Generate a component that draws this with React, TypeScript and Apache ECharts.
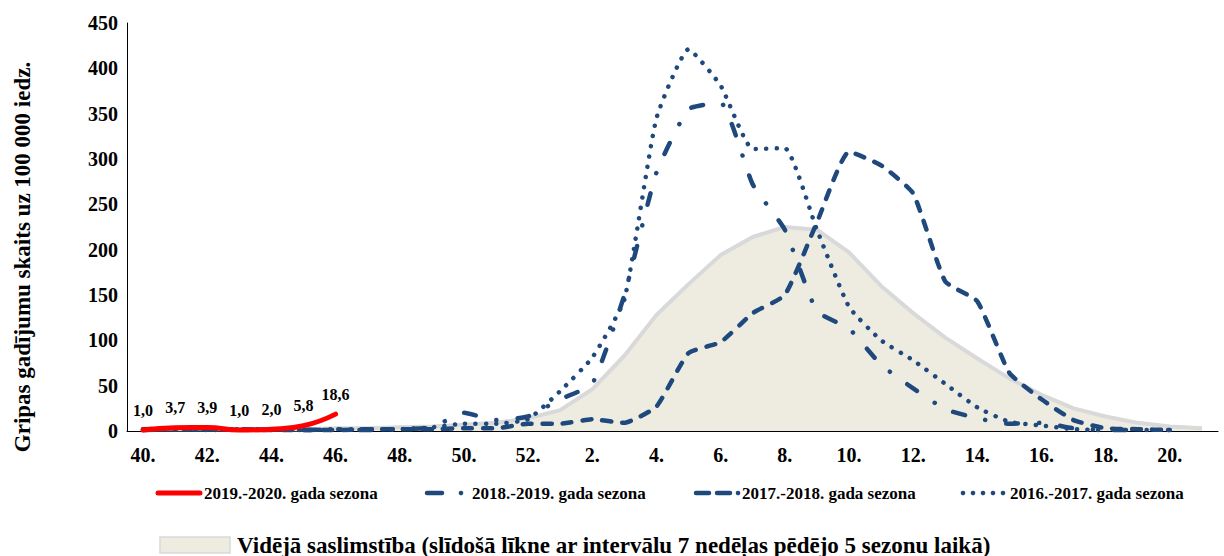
import React, { useEffect, useRef } from 'react';
import * as echarts from 'echarts';

const FONT = "'Liberation Serif', 'Times New Roman', serif";
const BLUE = '#1F497D';
const RED = '#FF0000';

const weeks = [
  '40.', '41.', '42.', '43.', '44.', '45.', '46.', '47.', '48.', '49.', '50.', '51.', '52.',
  '1.', '2.', '3.', '4.', '5.', '6.', '7.', '8.', '9.', '10.', '11.', '12.', '13.', '14.',
  '15.', '16.', '17.', '18.', '19.', '20.', '21.',
];

const season1920 = [1.0, 3.7, 3.9, 1.0, 2.0, 5.8, 18.6];

const season1819 = [
  1, 2, 3, 1, 2, 1, 2, 1, 2, 4, 20, 12, 16,
  35, 52, 150, 285, 355, 362, 272, 222, 132, 113, 73, 47, 24, 14,
  8, 9, 3, 1, 1, 1,
];

const season1718 = [
  2, 3, 2, 2, 1, 1, 1, 2, 2, 2, 3, 3, 8,
  8, 13, 9, 27, 86, 98, 130, 150, 230, 308, 293, 262, 165, 143,
  64, 35, 12, 3, 2, 1,
];

const season1617 = [
  2, 2, 1, 2, 2, 1, 2, 2, 2, 4, 8, 8, 13,
  44, 81, 145, 345, 421, 381, 311, 312, 222, 137, 100, 78, 52, 26,
  10, 6, 2, 1,
];

const average = [
  2, 2, 2, 2, 2, 2, 3, 3, 4, 5, 7, 9, 14,
  23, 46, 83, 128, 162, 194, 214, 225, 222, 197, 160, 130, 103, 80,
  58, 40, 25, 16, 9, 5, 3,
];

const seriesNames = [
  '2019.-2020. gada sezona',
  '2018.-2019. gada sezona',
  '2017.-2018. gada sezona',
  '2016.-2017. gada sezona',
];
const averageName =
  'Vidējā saslimstība (slīdošā līkne ar intervālu 7 nedēļas pēdējo 5 sezonu laikā)';
const yTitle = 'Gripas gadījumu skaits uz 100 000 iedz.';

const Y_MIN = 0;
const Y_MAX = 450;
const Y_STEP = 50;

function txt(text: string, x: number, y: number, size: number, extra: any = {}) {
  return {
    type: 'text',
    x,
    y,
    ...extra,
    style: {
      text,
      fill: '#000',
      font: `bold ${size}px ${FONT}`,
      textAlign: 'left',
      textVerticalAlign: 'middle',
      align: 'left',
      verticalAlign: 'middle',
      ...(extra.style || {}),
    },
  };
}

function seg(x1: number, x2: number, y: number, color: string, w: number) {
  return {
    type: 'line',
    shape: { x1, y1: y, x2, y2: y },
    style: { stroke: color, lineWidth: w, lineCap: 'round' },
  };
}

function dot(cx: number, cy: number) {
  return { type: 'circle', shape: { cx, cy, r: 2.3 }, style: { fill: BLUE } };
}

export default function App() {
  const ref = useRef<HTMLDivElement>(null);

  useEffect(() => {
    const chart = echarts.init(ref.current!, null, { renderer: 'svg' });
    const L1 = 493;
    const option: any = {
      animation: false,
      backgroundColor: '#ffffff',
      textStyle: { fontFamily: FONT },
      grid: { left: 127, right: 6, top: 23, bottom: 125, containLabel: false },
      xAxis: {
        type: 'category',
        data: weeks,
        boundaryGap: true,
        axisLine: { show: true, lineStyle: { color: '#000', width: 1 } },
        axisTick: { show: false },
        axisLabel: {
          interval: 1,
          margin: 14,
          color: '#000',
          fontSize: 20,
          fontWeight: 'bold',
          fontFamily: FONT,
        },
        splitLine: { show: false },
      },
      yAxis: {
        type: 'value',
        min: Y_MIN,
        max: Y_MAX,
        interval: Y_STEP,
        axisLine: { show: true, lineStyle: { color: '#000', width: 1 } },
        axisTick: { show: false },
        splitLine: { show: false },
        axisLabel: {
          margin: 9,
          color: '#000',
          fontSize: 20,
          fontWeight: 'bold',
          fontFamily: FONT,
        },
      },
      series: [
        {
          name: averageName,
          type: 'line',
          data: average,
          symbol: 'none',
          z: 1,
          lineStyle: { color: '#D9D9D9', width: 4, join: 'round' },
          areaStyle: { color: '#EEECE1', opacity: 1 },
        },
        {
          name: seriesNames[3],
          type: 'line',
          data: season1617,
          symbol: 'none',
          smooth: 0.15,
          z: 2,
          lineStyle: { color: BLUE, width: 4.5, type: [0.1, 10.3], cap: 'round', join: 'round' },
        },
        {
          name: seriesNames[2],
          type: 'line',
          data: season1718,
          symbol: 'none',
          smooth: 0.15,
          z: 3,
          lineStyle: { color: BLUE, width: 4.5, type: [9, 11], cap: 'round', join: 'round' },
        },
        {
          name: seriesNames[1],
          type: 'line',
          data: season1819,
          symbol: 'none',
          smooth: 0.15,
          z: 4,
          lineStyle: { color: BLUE, width: 4.5, type: [12, 21, 0.1, 21], cap: 'round', join: 'round' },
        },
        {
          name: seriesNames[0],
          type: 'line',
          data: season1920,
          symbol: 'circle',
          symbolSize: 2,
          showSymbol: true,
          itemStyle: { color: RED },
          smooth: 0.5,
          z: 5,
          lineStyle: { color: RED, width: 5, cap: 'round', join: 'round' },
          label: {
            show: true,
            position: 'top',
            distance: 11,
            color: '#000',
            fontSize: 16,
            fontWeight: 'bold',
            fontFamily: FONT,
            formatter: (p: any) => Number(p.value).toFixed(1).replace('.', ','),
          },
        },
      ],
      graphic: [
        txt(yTitle, 22, 257, 23, {
          rotation: Math.PI / 2,
          style: { textAlign: 'center', align: 'center' },
        }),
        seg(158, 200, L1, RED, 5),
        txt(seriesNames[0], 204, L1, 17),
        seg(427, 442, L1, BLUE, 4.5),
        dot(461, L1),
        txt(seriesNames[1], 472, L1, 17),
        seg(696, 709, L1, BLUE, 4.5),
        seg(717, 730, L1, BLUE, 4.5),
        dot(738, L1),
        txt(seriesNames[2], 742, L1, 17),
        dot(963, L1),
        dot(973, L1),
        dot(983, L1),
        dot(993, L1),
        dot(1003, L1),
        txt(seriesNames[3], 1010, L1, 17),
        {
          type: 'rect',
          shape: { x: 160, y: 537, width: 70, height: 16 },
          style: { fill: '#EEECE1', stroke: '#D9D9D9', lineWidth: 1.5 },
        },
        txt(averageName, 237, 545, 23),
      ],
    };
    chart.setOption(option);
    return () => chart.dispose();
  }, []);

  return (
    <div
      ref={ref}
      style={{ position: 'absolute', left: 0, top: 0, width: 1224, height: 556, background: '#fff' }}
    />
  );
}
